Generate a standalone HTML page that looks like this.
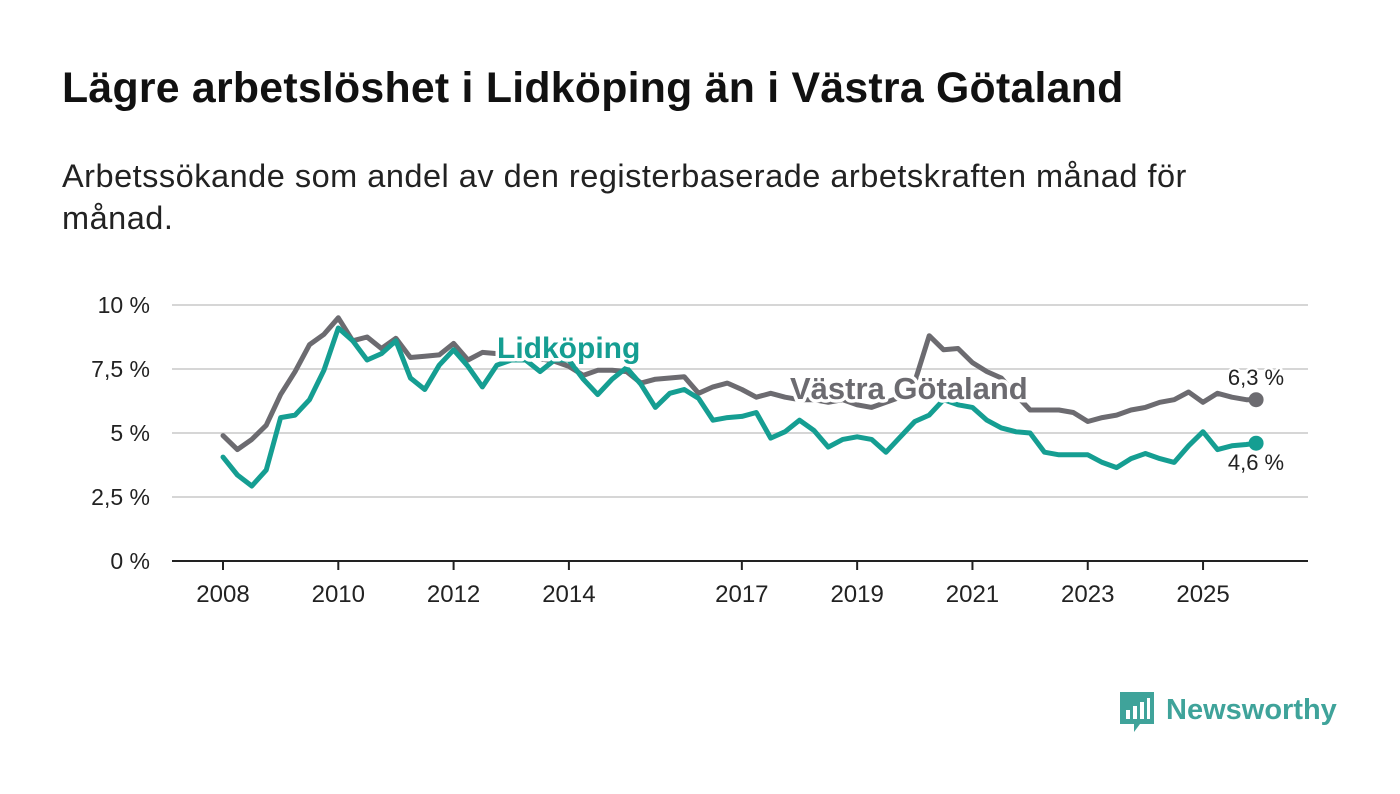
<!DOCTYPE html>
<html><head><meta charset="utf-8"><style>
body{margin:0;background:#fff;width:1400px;height:794px;overflow:hidden;font-family:"Liberation Sans",sans-serif;}
h1{position:absolute;left:62px;top:64px;margin:0;font-size:42.8px;font-weight:bold;color:#111;letter-spacing:0.25px}
.sub{position:absolute;left:62px;top:155px;margin:0;font-size:32.5px;line-height:42px;color:#222;width:1320px;letter-spacing:0.5px;white-space:nowrap}
svg{position:absolute;left:0;top:0}
</style></head><body>
<h1>Lägre arbetslöshet i Lidköping än i Västra Götaland</h1>
<p class="sub">Arbetssökande som andel av den registerbaserade arbetskraften månad för<br>månad.</p>
<svg id="chart" width="1400" height="794"></svg>
<script>
const years=[];for(let i=0;i<72;i++)years.push(2008+i*0.25);years.push(2025.92);
const lidkoping=[4.06,3.36,2.93,3.55,5.6,5.7,6.3,7.45,9.1,8.6,7.85,8.1,8.6,7.15,6.7,7.65,8.25,7.6,6.8,7.65,7.85,7.85,7.4,7.85,7.85,7.1,6.5,7.1,7.55,6.9,6.0,6.55,6.7,6.35,5.5,5.6,5.65,5.8,4.8,5.05,5.5,5.1,4.45,4.75,4.85,4.75,4.25,4.85,5.45,5.7,6.3,6.1,6.0,5.5,5.2,5.05,5.0,4.25,4.15,4.15,4.15,3.85,3.65,4.0,4.2,4.0,3.85,4.5,5.05,4.35,4.5,4.55,4.6];
const vastra=[4.9,4.35,4.75,5.3,6.5,7.4,8.45,8.85,9.5,8.6,8.75,8.3,8.7,7.95,8.0,8.05,8.5,7.85,8.15,8.1,8.0,8.0,7.9,7.8,7.6,7.25,7.45,7.45,7.4,6.95,7.1,7.15,7.2,6.55,6.8,6.95,6.7,6.4,6.55,6.4,6.3,6.3,6.2,6.3,6.1,6.0,6.2,6.4,7.0,8.8,8.25,8.3,7.75,7.4,7.15,6.5,5.9,5.9,5.9,5.8,5.45,5.6,5.7,5.9,6.0,6.2,6.3,6.6,6.2,6.55,6.4,6.3,6.3];
const yTicks=[0,2.5,5,7.5,10];
const yTickLabels=["0 %","2,5 %","5 %","7,5 %","10 %"];
const xTicks=[2008,2010,2012,2014,2017,2019,2021,2023,2025];
const TEAL="#159e92",GRAY="#6c6b70";
const X=v=>223+(v-2008)*57.65;
const Y=v=>561-v*25.6;
const svg=document.getElementById('chart');const NS="http://www.w3.org/2000/svg";
function mk(t,a){const e=document.createElementNS(NS,t);for(const k in a)e.setAttribute(k,a[k]);svg.appendChild(e);return e;}
yTicks.forEach((t,i)=>{
 const g=mk('line',{x1:172,x2:1308,y1:Y(t),y2:Y(t),stroke:t===0?'#222':'#d6d6d6','stroke-width':2});
 
 
 const l=mk('text',{x:150,y:Y(t)+8,'text-anchor':'end','font-size':23,fill:'#222','font-family':'Liberation Sans, sans-serif'});
 l.textContent=yTickLabels[i];
 
 
});
xTicks.forEach(t=>{
 const tk=mk('line',{x1:X(t),x2:X(t),y1:561,y2:570,stroke:'#222','stroke-width':2});
 
 
 const l=mk('text',{x:X(t),y:602,'text-anchor':'middle','font-size':24,fill:'#222','font-family':'Liberation Sans, sans-serif'});
 l.textContent=t;
 
 
});
function line(vals,col,name){
 const d=vals.map((v,i)=>(i?'L':'M')+X(years[i]).toFixed(1)+' '+Y(v).toFixed(1)).join(' ');
 const p=mk('path',{d,fill:'none',stroke:col,'stroke-width':5,'stroke-linejoin':'round','stroke-linecap':'round'});
 
 
 const n=vals.length-1;
 const c=mk('circle',{cx:X(years[n]),cy:Y(vals[n]),r:7.5,fill:col});
 
 
}
line(vastra,GRAY,'vastra-gotaland-line');
line(lidkoping,TEAL,'lidkoping-line');
function lab(txt,x,y,col,name,size,bold,anchor){
 const t=mk('text',{x,y,'font-size':size,'font-weight':bold?'bold':'normal',fill:col,stroke:'#fff','stroke-width':bold?7:5,'paint-order':'stroke','stroke-linejoin':'round','font-family':'Liberation Sans, sans-serif','text-anchor':anchor||'start'});
 t.textContent=txt;
 
 
}
lab('Lidköping',497,358,TEAL,'lidkoping-label',30,true);
lab('Västra Götaland',790,399,GRAY,'vastra-gotaland-label',31,true);
lab('6,3 %',1256,385,'#222','vastra-end-value',22,false,'middle');
lab('4,6 %',1256,470,'#222','lidkoping-end-value',22,false,'middle');
</script>
<div style="position:absolute;left:1118px;top:690px;display:flex;align-items:center">
 <svg width="38" height="46" viewBox="0 0 38 46" style="position:static">
  <path d="M2 2h34v32H22l-6 8v-8H2z" fill="#3fa39a"/>
  <rect x="8" y="20" width="4" height="9" fill="#fff"/><rect x="15" y="16" width="4" height="13" fill="#fff"/><rect x="22" y="12" width="4" height="17" fill="#fff"/><rect x="29" y="8" width="3" height="21" fill="#fff"/>
 </svg>
 <span style="font-size:29px;font-weight:bold;color:#3fa39a;margin-left:10px;margin-top:-6px">Newsworthy</span>
</div>
</body></html>
